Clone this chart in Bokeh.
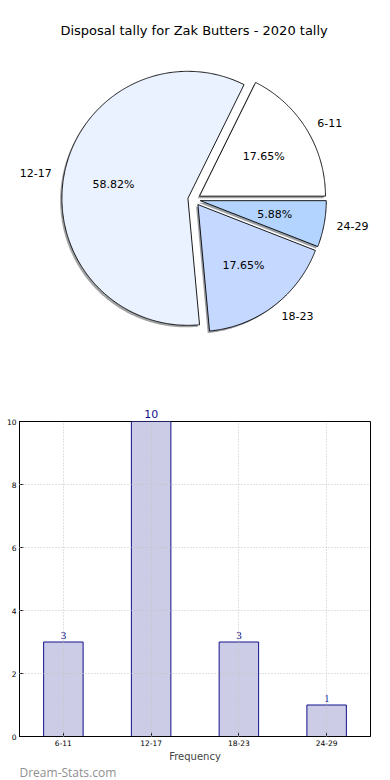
import numpy as np
from bokeh.plotting import figure
from bokeh.models import Range1d, ColumnDataSource, FactorRange, FixedTicker, Label, LabelSet, Title
from bokeh.layouts import column
from bokeh.embed import file_html
from bokeh.resources import INLINE

# ---------------- data ----------------
title_text = "Disposal tally for Zak Butters - 2020 tally"
categories = ["6-11", "12-17", "18-23", "24-29"]
counts = [3, 10, 3, 1]
pie_colors = ["#ffffff", "#eaf1ff", "#c5d8ff", "#b3d4ff"]
y_ticks = [0, 2, 4, 6, 8, 10]
y_max = 10
x_label = "Frequency"
watermark = "Dream-Stats.com"

# ---------------- style ----------------
FONT = "DejaVu Sans"
bar_fill = "#ccccE6"
bar_line = "#10108c"
value_color = "#10108c"

# ---------------- pie ----------------
W1, H1 = 390, 395
cx_px, cy_px = 194, 199     # pie centre inside the figure, pixels
rx_px, ry_px = 140, 127     # radii in pixels (elliptical pie)
explode = 0.05

p1 = figure(width=W1, height=H1,
            x_range=Range1d(-cx_px / rx_px, (W1 - cx_px) / rx_px),
            y_range=Range1d(-(H1 - cy_px) / ry_px, cy_px / ry_px),
            output_backend="svg", toolbar_location=None,
            x_axis_location=None, y_axis_location=None, min_border=0)
p1.grid.visible = False
p1.outline_line_color = None

total = float(sum(counts))
fracs = np.array(counts) / total
ends = np.cumsum(fracs) * 2 * np.pi
starts = ends - fracs * 2 * np.pi
mids = (starts + ends) / 2

def hex_to_rgb(h):
    h = h.lstrip("#")
    return tuple(int(h[i:i + 2], 16) for i in (0, 2, 4))

wx, wy, sx, sy, shadow_cols = [], [], [], [], []
dxs, dys = -2.0 / rx_px, -2.0 / ry_px
for s, e, m, c in zip(starts, ends, mids, pie_colors):
    ox, oy = explode * np.cos(m), explode * np.sin(m)
    t = np.linspace(s, e, max(int(np.degrees(e - s) * 2), 10))
    px = np.concatenate([[ox], ox + np.cos(t)])
    py = np.concatenate([[oy], oy + np.sin(t)])
    wx.append(list(px)); wy.append(list(py))
    sx.append(list(px + dxs)); sy.append(list(py + dys))
    r, g, b = hex_to_rgb(c)
    shadow_cols.append("#%02x%02x%02x" % (int(r * 0.3), int(g * 0.3), int(b * 0.3)))

p1.patches(xs=sx, ys=sy, fill_color=shadow_cols, fill_alpha=0.5, line_color=None)
p1.patches(xs=wx, ys=wy, fill_color=pie_colors, line_color="black", line_width=0.9)

lab_x = explode * np.cos(mids) + 1.1 * np.cos(mids)
lab_y = explode * np.sin(mids) + 1.1 * np.sin(mids)
pct_x = explode * np.cos(mids) + 0.6 * np.cos(mids)
pct_y = explode * np.sin(mids) + 0.6 * np.sin(mids)
pct_txt = ["%.2f%%" % (f * 100) for f in fracs]

for i, cat in enumerate(categories):
    p1.add_layout(Label(x=lab_x[i], y=lab_y[i], text=cat,
                        text_align="left" if lab_x[i] > 0 else "right",
                        text_baseline="middle", text_font=FONT,
                        text_font_size="11px", text_color="black"))
    p1.add_layout(Label(x=pct_x[i], y=pct_y[i], text=pct_txt[i],
                        text_align="center", text_baseline="middle",
                        text_font=FONT, text_font_size="11px", text_color="black"))

p1.add_layout(Label(x=0, y=(cy_px - 30) / ry_px, text=title_text,
                    text_align="center", text_baseline="middle",
                    text_font=FONT, text_font_size="13px", text_color="black"))

# ---------------- bar chart ----------------
W2, H2 = 390, 369
FL, FR = 19, 20
frame_w = W2 - FL - FR
p2 = figure(width=W2, height=H2, x_range=FactorRange(*categories),
            y_range=Range1d(0, y_max), output_backend="svg", toolbar_location=None,
            min_border_left=FL, min_border_right=FR, min_border_top=26,
            min_border_bottom=26)
src = ColumnDataSource(dict(cat=categories, cnt=counts))
p2.vbar(x="cat", top="cnt", width=0.45, source=src, fill_color=bar_fill,
        line_color=bar_line, line_width=1)

# value labels: inside the frame through a LabelSet, the ones at the top of
# the range as titles above the frame (annotations are clipped to the frame)
inside = [i for i, c in enumerate(counts) if c < y_max]
lsrc = ColumnDataSource(dict(cat=[categories[i] for i in inside],
                             cnt=[counts[i] for i in inside],
                             txt=[str(counts[i]) for i in inside]))
p2.add_layout(LabelSet(x="cat", y="cnt", text="txt", source=lsrc,
                       text_align="center", text_baseline="bottom", y_offset=3,
                       text_font=FONT, text_font_size="11px", text_color=value_color))
for i, c in enumerate(counts):
    if c >= y_max:
        centre = (i + 0.5) / len(categories) * frame_w
        half_w = len(str(c)) * 11 * 0.636 / 2
        p2.add_layout(Title(text=str(c), align="left", offset=centre - half_w,
                            standoff=8, text_font=FONT, text_font_size="11px",
                            text_font_style="normal", text_color=value_color), "above")

p2.yaxis.ticker = FixedTicker(ticks=y_ticks)
for ax in (p2.xaxis[0], p2.yaxis[0]):
    ax.major_tick_in = 4
    ax.major_tick_out = 0
    ax.minor_tick_in = 0
    ax.minor_tick_out = 0
    ax.axis_line_color = "black"
    ax.major_tick_line_color = "black"
    ax.major_label_text_font = FONT
    ax.major_label_text_font_size = "7.5px"
    ax.major_label_text_color = "black"
p2.yaxis.major_label_standoff = 3
p2.xaxis.major_label_standoff = 3
p2.xaxis.axis_label = x_label
p2.xaxis.axis_label_text_font = FONT
p2.xaxis.axis_label_text_font_size = "10px"
p2.xaxis.axis_label_text_font_style = "normal"
p2.xaxis.axis_label_standoff = 2
p2.outline_line_color = "black"
p2.outline_line_alpha = 1
for g in (p2.xgrid[0], p2.ygrid[0]):
    g.grid_line_color = "#c4c4c4"
    g.grid_line_dash = "1 2"
    g.grid_line_width = 1
    g.level = "overlay"

# ---------------- watermark strip ----------------
W3, H3 = 390, 16
p3 = figure(width=W3, height=H3, x_range=Range1d(0, W3), y_range=Range1d(0, H3),
            output_backend="svg", toolbar_location=None,
            x_axis_location=None, y_axis_location=None, min_border=0)
p3.grid.visible = False
p3.outline_line_color = None
p3.add_layout(Label(x=0, y=H3 / 2, text=watermark, text_align="left",
                    text_baseline="middle", text_font="Open Sans",
                    text_font_size="12px", text_color="#8f8f8f"))

layout = column(p1, p2, p3)
open("out.html", "w").write(file_html(layout, INLINE))
